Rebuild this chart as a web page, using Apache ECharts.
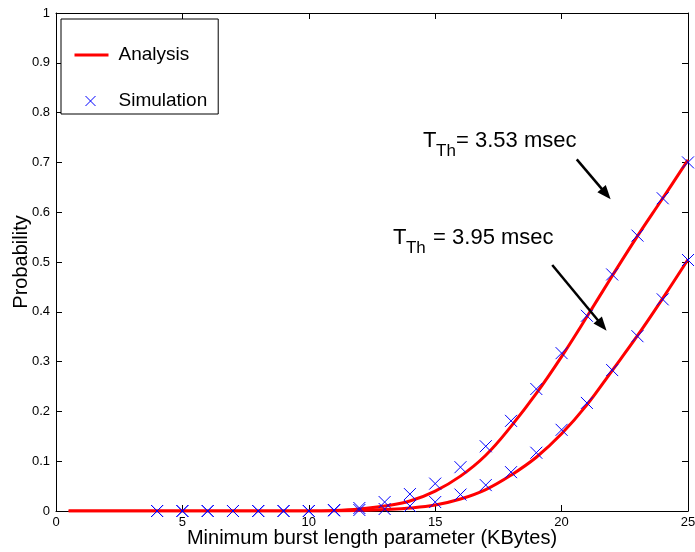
<!DOCTYPE html>
<html>
<head>
<meta charset="utf-8">
<script src="https://cdn.jsdelivr.net/npm/echarts@6/dist/echarts.min.js"></script>
<style>
html,body{margin:0;padding:0;background:#fff;}
#c{width:695px;height:552px;}
</style>
</head>
<body>
<div id="c"></div>
<script>
// ---- data ----
var analysisX = [0.5,1,2,3,4,5,6,7,8,9,10,11,12,13,14,15,16,17,18,19,20,21,22,23,24,25];
var analysisHigh = [0,0,0,0,0,0,0,0,0,0,0,0.001,0.004,0.010,0.020,0.040,0.070,0.112,0.170,0.236,0.310,0.390,0.472,0.552,0.628,0.705];
var analysisLow  = [0,0,0,0,0,0,0,0,0,0,0,0.000,0.001,0.003,0.006,0.012,0.024,0.043,0.072,0.108,0.155,0.213,0.282,0.352,0.427,0.505];
var simX = [4,5,6,7,8,9,10,11,12,13,14,15,16,17,18,19,20,21,22,23,24,25];
var simHigh = [0,0,0,0,0,0,0,0.002,0.006,0.018,0.034,0.055,0.088,0.130,0.181,0.245,0.317,0.392,0.475,0.553,0.628,0.700];
var simLow  = [0,0,0,0,0,0,0,0.001,0.002,0.004,0.010,0.018,0.033,0.052,0.078,0.117,0.163,0.217,0.283,0.351,0.425,0.504];
var xTicks = [0,5,10,15,20,25];
var yTicks = [0,0.1,0.2,0.3,0.4,0.5,0.6,0.7,0.8,0.9,1];
var labelHigh = '3.53 msec';
var labelLow = '3.95 msec';

function pairs(xs, ys){ return xs.map(function(x,i){return [x, ys[i]];}); }

var FONT = 'Liberation Sans, Arial, Helvetica, sans-serif';
var crossPath = 'path://M0,0L10,10M10,0L0,10';
// legend icons: thin bar / small cross, padded with degenerate moves to keep their size
var lineIcon = 'path://M0,5.6L34,5.6L34,8.4L0,8.4Z M0,0L0,0 M0,14L0,14';
var crossIcon = 'path://M11,2L21,12M21,2L11,12 M0,0L0,0 M34,14L34,14';

var chart = echarts.init(document.getElementById('c'), null, {renderer:'canvas'});

var axisCommon = {
  axisLine:{show:true, onZero:false, lineStyle:{color:'#000', width:1}},
  axisTick:{show:true, inside:true, length:6, lineStyle:{color:'#000', width:1}},
  splitLine:{show:false}
};

var option = {
  animation:false,
  backgroundColor:'#fff',
  grid:{left:56, right:7, top:13, bottom:41, containLabel:false, outerBoundsMode:'none'},
  legend:{
    show:true,
    left:61, top:19,
    orient:'vertical',
    backgroundColor:'#fff',
    borderColor:'#000', borderWidth:1, borderRadius:0,
    padding:[26,11,3,11],
    itemGap:26,
    itemWidth:34, itemHeight:14,
    textStyle:{fontFamily:FONT, fontSize:19, color:'#000', lineHeight:20, padding:[0,0,0,5]},
    data:[
      {name:'Analysis', icon:lineIcon},
      {name:'Simulation', icon:crossIcon, itemStyle:{color:'none', borderColor:'#0000ff', borderWidth:1}}
    ]
  },
  xAxis:[
    Object.assign({}, axisCommon, {
      type:'value', min:0, max:25, interval:5, position:'bottom',
      name:'Minimum burst length parameter (KBytes)', nameLocation:'middle', nameGap:17, nameMoveOverlap:false,
      nameTextStyle:{fontFamily:FONT, fontSize:20, color:'#000'},
      axisLabel:{show:true, margin:5, fontFamily:FONT, fontSize:13, color:'#000',
        formatter:function(v){return xTicks.indexOf(v)>=0 ? String(v) : '';}}
    }),
    Object.assign({}, axisCommon, {
      type:'value', min:0, max:25, interval:5, position:'top',
      axisLabel:{show:false}
    })
  ],
  yAxis:[
    Object.assign({}, axisCommon, {
      type:'value', min:0, max:1, interval:0.1, position:'left',
      name:'Probability', nameLocation:'middle', nameGap:25, nameMoveOverlap:false,
      nameTextStyle:{fontFamily:FONT, fontSize:20, color:'#000'},
      axisLabel:{show:true, margin:6, fontFamily:FONT, fontSize:13, color:'#000',
        formatter:function(v){ var r = Math.round(v*10)/10; return String(r);}}
    }),
    Object.assign({}, axisCommon, {
      type:'value', min:0, max:1, interval:0.1, position:'right',
      axisLabel:{show:false}
    })
  ],
  series:[
    {name:'Analysis', type:'line', xAxisIndex:0, yAxisIndex:0, data:pairs(analysisX, analysisHigh),
      symbol:'none', smooth:0.4, lineStyle:{color:'#ff0000', width:3}, itemStyle:{color:'#ff0000'}, z:2},
    {name:'Analysis', type:'line', xAxisIndex:0, yAxisIndex:0, data:pairs(analysisX, analysisLow),
      symbol:'none', smooth:0.4, lineStyle:{color:'#ff0000', width:3}, itemStyle:{color:'#ff0000'}, z:2},
    {name:'Simulation', type:'scatter', xAxisIndex:0, yAxisIndex:0, data:pairs(simX, simHigh),
      symbol:crossPath, symbolSize:12, itemStyle:{color:'none', borderColor:'#0000ff', borderWidth:1, opacity:1}, z:3},
    {name:'Simulation', type:'scatter', xAxisIndex:0, yAxisIndex:0, data:pairs(simX, simLow),
      symbol:crossPath, symbolSize:12, itemStyle:{color:'none', borderColor:'#0000ff', borderWidth:1, opacity:1}, z:3}
  ]
};
chart.setOption(option);

// ---- annotations (anchored in data coordinates) ----
function px(x, y){ return chart.convertToPixel({xAxisIndex:0, yAxisIndex:0}, [x, y]); }
function arrow(x1,y1,x2,y2){
  var a = px(x1,y1), b = px(x2,y2);
  var dx=b[0]-a[0], dy=b[1]-a[1], L=Math.sqrt(dx*dx+dy*dy), ux=dx/L, uy=dy/L;
  var hl=14, hw=5.5;
  var bx=b[0]-ux*hl, by=b[1]-uy*hl;
  return [
    {type:'line', shape:{x1:a[0], y1:a[1], x2:bx+ux*2, y2:by+uy*2}, style:{stroke:'#000', lineWidth:2.5}, z:10},
    {type:'polygon', shape:{points:[[b[0],b[1]],[bx-uy*hw, by+ux*hw],[bx+uy*hw, by-ux*hw]]}, style:{fill:'#000'}, z:10}
  ];
}
function label(x, y, rest, subGap){
  var p = px(x, y);
  return [
    {type:'text', x:p[0], y:p[1], style:{text:'T', font:'22px '+FONT, fill:'#000', textAlign:'left', verticalAlign:'top'}, z:10},
    {type:'text', x:p[0]+13, y:p[1]+13, style:{text:'Th', font:'17px '+FONT, fill:'#000', textAlign:'left', verticalAlign:'top'}, z:10},
    {type:'text', x:p[0]+subGap, y:p[1], style:{text:rest, font:'22px '+FONT, fill:'#000', textAlign:'left', verticalAlign:'top'}, z:10}
  ];
}
var g = [];
g = g.concat(label(14.52, 0.766, '= ' + labelHigh, 33));
g = g.concat(label(13.33, 0.571, ' = ' + labelLow, 34));
g = g.concat(arrow(20.6, 0.706, 21.94, 0.626));
g = g.concat(arrow(19.63, 0.494, 21.78, 0.362));
chart.setOption({graphic:g});
</script>
</body>
</html>
